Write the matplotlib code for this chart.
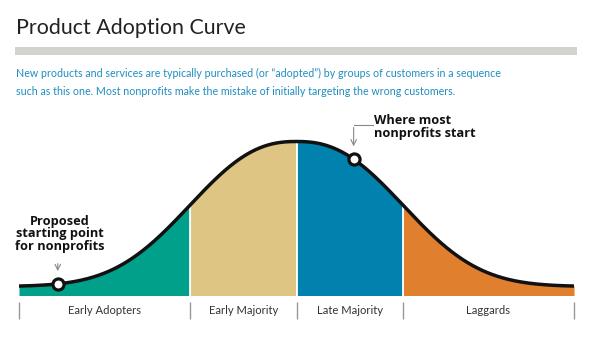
import numpy as np
import matplotlib.pyplot as plt

# 分段名称和边界 (分段宽度为单位)
categories = ['Early Adopters', 'Early Majority', 'Late Majority', 'Laggards']
edges = [-2.613, -1.0, 0.0, 1.0, 2.613]
colors = ['#00a08a', '#dfc583', '#0081ae', '#e07f2e']

# 钟形曲线形状参数
spread = 1.26
power = 2.4
base_offset = 0.062

# 标注点位置
point_start = -2.248
point_most = 0.538

title = 'Product Adoption Curve'
subtitle = ('New products and services are typically purchased (or \u201cadopted\u201d) by groups of customers in a sequence\n'
            'such as this one. Most nonprofits make the mistake of initially targeting the wrong customers.')


def curve(x):
    return base_offset + np.exp(-(np.abs(x) / spread) ** power)


W, H = 592, 341
fig = plt.figure(figsize=(W / 100, H / 100), dpi=100)
plt.rcParams['font.family'] = ['Lato', 'DejaVu Sans']

# 标题和灰条
fig.text(16 / W, 1 - 34 / H, title, fontsize=15.4, color='#222222', va='baseline', ha='left')
fig.add_artist(plt.Rectangle((15 / W, 1 - 55 / H), (577 - 15) / W, 8 / H,
                             transform=fig.transFigure, color='#d2d2ce', lw=0))
fig.text(16 / W, 1 - 82.5 / H, subtitle, fontsize=7.7, color='#1f8dbf', va='center', ha='left',
         linespacing=1.85)

# 主图区域
top_px, bot_px, base_px = 110, 330, 295.5
scale = (base_px - 141.5) / curve(0.0)  # 像素/单位
px = 1 / scale
ax = fig.add_axes([19 / W, 1 - bot_px / H, (574 - 19) / W, (bot_px - top_px) / H])
ax.set_xlim(edges[0], edges[-1])
ax.set_ylim(-(bot_px - base_px) * px, (base_px - top_px) * px)
ax.axis('off')

x = np.linspace(edges[0], edges[-1], 800)
for i in range(len(categories)):
    m = (x >= edges[i]) & (x <= edges[i + 1])
    ax.fill_between(x[m], 0, curve(x[m]), color=colors[i], lw=0)
for e in edges[1:-1]:
    ax.vlines(e, 0, curve(e), color='white', lw=1.3)
ax.plot(x, curve(x), color='#111111', lw=2.5, solid_capstyle='butt')

# 标注点
for p in [point_start, point_most]:
    ax.plot(p, curve(p), 'o', ms=8, mfc='white', mec='#111111', mew=2.3, zorder=5)

# 底部分隔线和标签
ax.vlines(edges, -6 * px, -23 * px, color='#999999', lw=1, clip_on=False)
for i, c in enumerate(categories):
    ax.text((edges[i] + edges[i + 1]) / 2, -14.5 * px, c, ha='center', va='center',
            fontsize=8.1, color='#333333')

# 注释文字
bold = ['Open Sans', 'DejaVu Sans']
ax.text(point_start + 0.02, curve(point_start) + 50 * px, 'Proposed\nstarting point\nfor nonprofits',
        ha='center', va='center', fontsize=9.2, fontweight='bold', color='#111111',
        linespacing=0.95, family=bold)
ax.annotate('', xy=(point_start, curve(point_start) + 10 * px),
            xytext=(point_start, curve(point_start) + 23 * px),
            arrowprops=dict(arrowstyle='->', color='#888888', lw=0.8))
ax.text(point_most + 0.19, curve(point_most) + 32 * px, 'Where most\nnonprofits start',
        ha='left', va='center', fontsize=9.2, fontweight='bold', color='#111111',
        linespacing=0.95, family=bold)
ax.plot([point_most + 0.18, point_most], [curve(point_most) + 34 * px] * 2,
        color='#888888', lw=0.8, clip_on=False)
ax.annotate('', xy=(point_most, curve(point_most) + 10 * px),
            xytext=(point_most, curve(point_most) + 34.4 * px),
            arrowprops=dict(arrowstyle='->', color='#888888', lw=0.8))

fig.savefig('out.png', dpi=100)
